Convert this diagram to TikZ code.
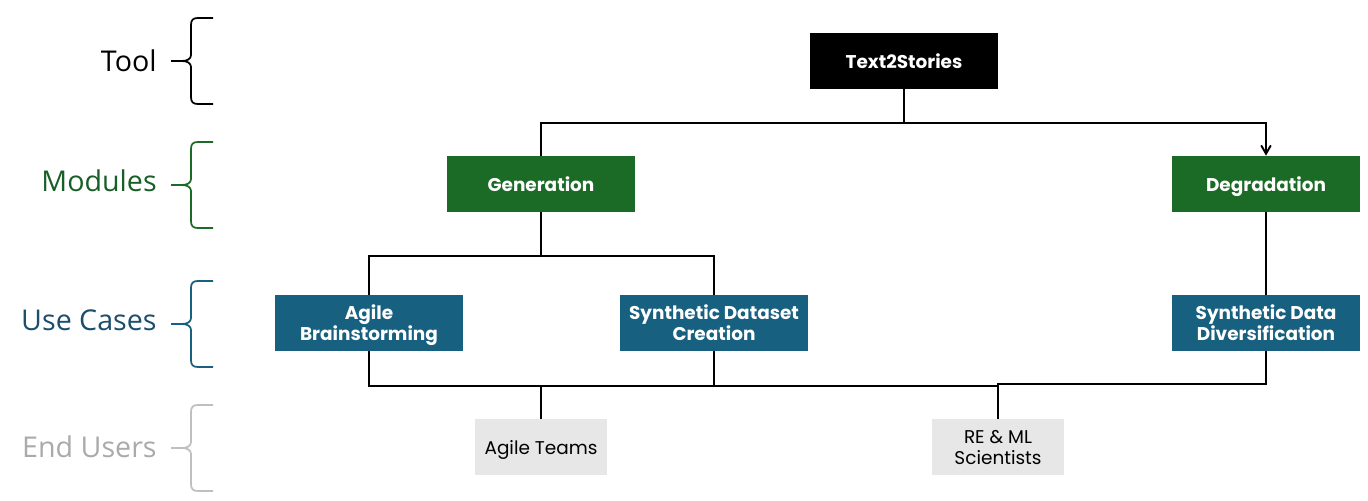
\documentclass[tikz,border=0pt]{standalone}
\usepackage{fontspec}
\setmainfont{Poppins}
\newfontfamily\sidefont{Open Sans}
\usetikzlibrary{arrows}

\definecolor{modgreen}{RGB}{27,107,38}
\definecolor{caseblue}{RGB}{23,96,128}
\definecolor{usergray}{RGB}{231,231,231}
\definecolor{modtext}{RGB}{24,94,38}
\definecolor{casetext}{RGB}{26,78,108}
\definecolor{usertext}{RGB}{170,170,170}
\definecolor{userbrace}{RGB}{191,191,191}

\tikzset{
  box/.style={minimum width=3.76cm, minimum height=1.12cm, inner sep=0pt, align=center,
    text=white, font=\bfseries\fontsize{10.5}{12}\selectfont,
    execute at begin node=\rule{0pt}{11.5pt},
    execute at end node=\rule[-3.1pt]{0pt}{3.1pt}},
  twolines/.style={execute at begin node={}, execute at end node={}},
  toolbox/.style={box, fill=black},
  modbox/.style={box, fill=modgreen},
  casebox/.style={box, fill=caseblue},
  userbox/.style={box, fill=usergray, text=black, minimum width=2.64cm,
    font=\fontsize{10.5}{12}\selectfont},
  link/.style={draw=black, line width=1.1pt},
  level/.style={anchor=east, inner sep=0pt, font=\sidefont\fontsize{16.3}{18}\selectfont},
  bracket/.style={line width=1pt}
}
% upper and lower line of a two-line box, with fixed line height
\newcommand{\twoline}[2]{\rule{0pt}{11.5pt}#1\\#2\rule[-3.1pt]{0pt}{3.1pt}}

\begin{document}
\begin{tikzpicture}[x=0.02cm, y=-0.02cm]
\useasboundingbox (0,0) rectangle (1368,500);

% levels on the left
\foreach \m/\txt/\c/\bc in {61/Tool/black/black, 181/Modules/modtext/modgreen,
    320/Use Cases/casetext/caseblue, 447/End Users/usertext/userbrace} {
  \node[level, text=\c] at (157,\m) {\txt};
}
\foreach \m/\bc in {61/black, 185/modgreen, 324/caseblue, 448/userbrace} {
  \draw[bracket, draw=\bc] (213,{\m-43}) -- (198,{\m-43})
    .. controls (193,{\m-43}) and (191,{\m-41}) .. (191,{\m-36}) -- (191,{\m-6})
    .. controls (191,{\m-2}) and (187,\m) .. (182,\m) -- (171,\m);
  \draw[bracket, draw=\bc] (171,\m) -- (182,\m)
    .. controls (187,\m) and (191,{\m+2}) .. (191,{\m+6}) -- (191,{\m+36})
    .. controls (191,{\m+41}) and (193,{\m+43}) .. (198,{\m+43}) -- (213,{\m+43});
}

% boxes
\node[toolbox] (tool) at (904,61) {Text2Stories};
\node[modbox] (gen) at (541,184) {Generation};
\node[modbox] (deg) at (1266,184) {Degradation};
\node[casebox, twolines] (agile) at (369,323) {\twoline{Agile}{Brainstorming}};
\node[casebox, twolines] (synth) at (714,323) {\twoline{Synthetic Dataset}{Creation}};
\node[casebox, twolines] (div) at (1266,323) {\twoline{Synthetic Data}{Diversification}};
\node[userbox] (teams) at (541,447) {Agile Teams};
\node[userbox, twolines] (sci) at (998,447) {\twoline{RE \& ML}{Scientists}};

% joints
\coordinate (toolsplit) at (904,123);
\coordinate (gensplit) at (541,256);
\coordinate (teamsjoin) at (541,386);
\coordinate (scijoin) at (998,386);
\coordinate (divjoin) at (998,384);

% connectors
\draw[link] (tool) -- (toolsplit) -| (gen);
\draw[link, -angle 60] (toolsplit) -| (deg);
\draw[link] (gen) -- (gensplit) -| (agile);
\draw[link] (gensplit) -| (synth);
\draw[link] (deg) -- (div);
\draw[link] (agile) |- (scijoin);
\draw[link] (synth) -- (synth |- teamsjoin);
\draw[link] (teamsjoin) -- (teams);
\draw[link] (div) |- (divjoin) -- (sci);
\end{tikzpicture}
\end{document}
